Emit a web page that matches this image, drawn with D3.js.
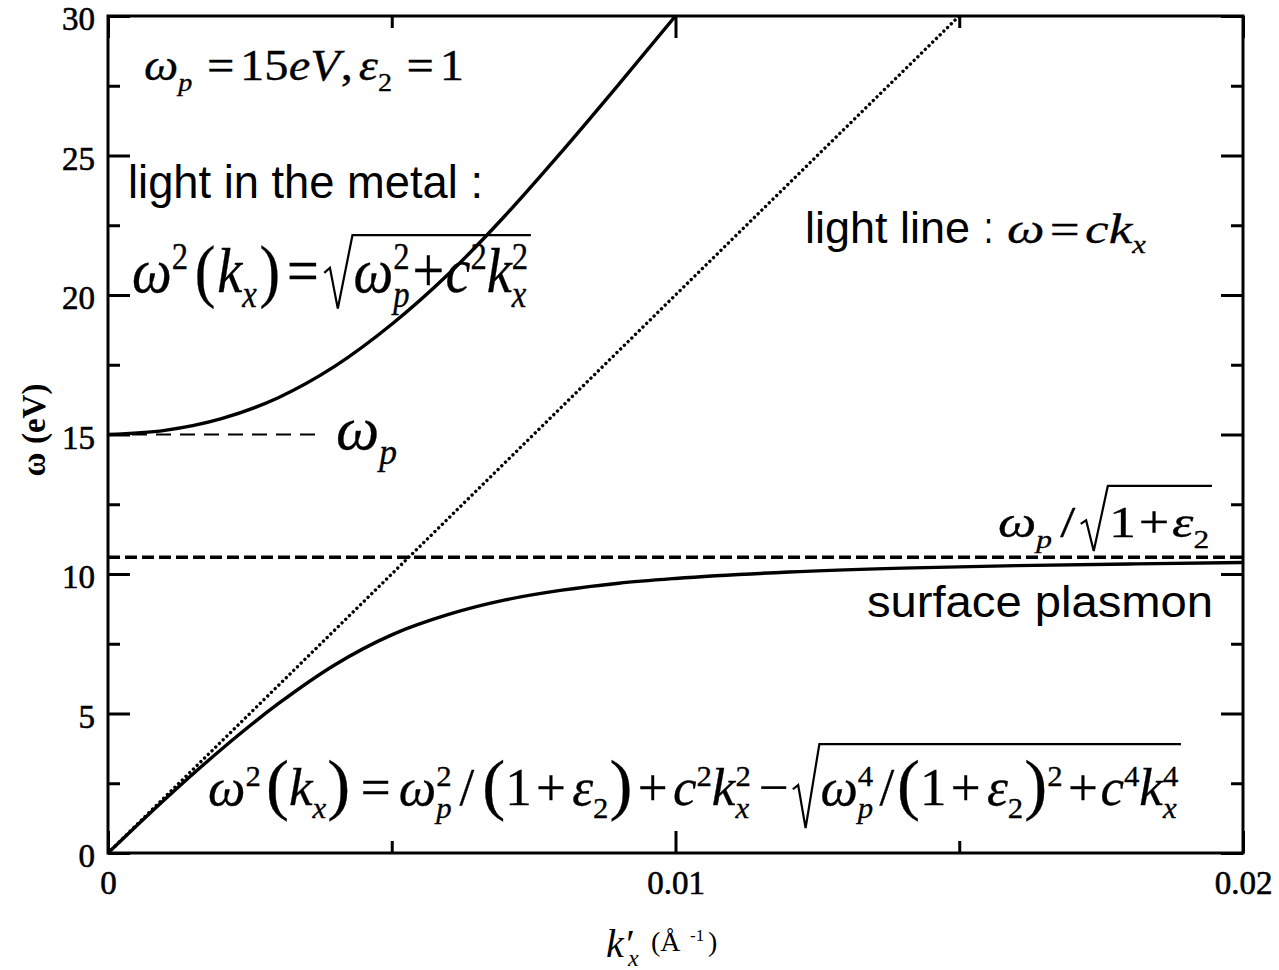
<!DOCTYPE html>
<html><head><meta charset="utf-8">
<script src="https://cdn.jsdelivr.net/npm/d3@7"></script>
<style>
html,body{margin:0;padding:0;background:#fff;}
svg{display:block;}
</style></head>
<body>
<svg id="chart" width="1279" height="970"></svg>
<script>
// Dispersion branches: wavevector k'x (1/Å) and energy ω (eV)
const upperK = [0, 0.001, 0.002, 0.003, 0.004, 0.005, 0.006, 0.007, 0.008, 0.009, 0.010];
const upperW = [15.0, 15.15, 15.57, 16.32, 17.45, 18.95, 20.75, 22.85, 25.15, 27.55, 30.0];
const lowerK = [0, 0.001, 0.002, 0.003, 0.004, 0.005, 0.006, 0.007, 0.008, 0.009, 0.010, 0.012, 0.014, 0.016, 0.018, 0.020];
const lowerW = [0, 1.92, 3.72, 5.35, 6.75, 7.82, 8.55, 9.07, 9.42, 9.67, 9.84, 10.07, 10.21, 10.3, 10.36, 10.41];
const lightK = [0, 0.015];
const lightW = [0, 30];
const plasmaK = [0, 0.00365];
const plasmaW = [15, 15];
const surfK = [0, 0.02];
const surfW = [10.6, 10.6];

const xTicks = [0, 0.01, 0.02];
const xTickLabels = ["0", "0.01", "0.02"];
const xMinorTicks = [0.005, 0.015];
const yTicks = [0, 5, 10, 15, 20, 25, 30];
const yTickLabels = ["0", "5", "10", "15", "20", "25", "30"];
const yMinorTicks = [2.5, 7.5, 12.5, 17.5, 22.5, 27.5];

const SERIF = "'Liberation Serif','Times New Roman',serif";
const SANS = "'Liberation Sans',Arial,sans-serif";

const svg = d3.select("#chart");
const L = 108, R = 1243, T = 16, B = 853;
const x = d3.scaleLinear().domain([0, 0.02]).range([L, R]);
const y = d3.scaleLinear().domain([0, 30]).range([B, T]);

svg.append("defs").append("clipPath").attr("id", "plot")
  .append("rect").attr("x", L).attr("y", T).attr("width", R - L).attr("height", B - T);

// axes: inward ticks, long at labelled values, short in between
function styleAxis(g) {
  g.select(".domain").remove();
  g.selectAll(".tick line").attr("stroke", "#000").attr("stroke-width", 3);
  g.selectAll(".tick text").attr("font-family", SERIF).attr("font-size", 33).attr("fill", "#000")
    .attr("stroke", "#000").attr("stroke-width", 0.6);
}
svg.append("g").attr("transform", `translate(0,${B})`)
  .call(d3.axisBottom(x).tickValues(xTicks).tickFormat((d, i) => xTickLabels[i]).tickSize(-22).tickPadding(18))
  .call(styleAxis);
svg.append("g").attr("transform", `translate(0,${B})`)
  .call(d3.axisBottom(x).tickValues(xMinorTicks).tickFormat("").tickSize(-12)).call(styleAxis);
svg.append("g").attr("transform", `translate(0,${T})`)
  .call(d3.axisTop(x).tickValues(xTicks).tickFormat("").tickSize(-22)).call(styleAxis);
svg.append("g").attr("transform", `translate(0,${T})`)
  .call(d3.axisTop(x).tickValues(xMinorTicks).tickFormat("").tickSize(-12)).call(styleAxis);
const yAxisG = svg.append("g").attr("transform", `translate(${L},0)`)
  .call(d3.axisLeft(y).tickValues(yTicks).tickFormat((d, i) => yTickLabels[i]).tickSize(-22).tickPadding(13))
  .call(styleAxis);
yAxisG.selectAll(".tick text").attr("dy", "0.42em");
svg.append("g").attr("transform", `translate(${L},0)`)
  .call(d3.axisLeft(y).tickValues(yMinorTicks).tickFormat("").tickSize(-12)).call(styleAxis);
svg.append("g").attr("transform", `translate(${R},0)`)
  .call(d3.axisRight(y).tickValues(yTicks).tickFormat("").tickSize(-22)).call(styleAxis);
svg.append("g").attr("transform", `translate(${R},0)`)
  .call(d3.axisRight(y).tickValues(yMinorTicks).tickFormat("").tickSize(-12)).call(styleAxis);

svg.append("rect").attr("x", L).attr("y", T).attr("width", R - L).attr("height", B - T)
  .attr("fill", "none").attr("stroke", "#000").attr("stroke-width", 3);

// curves
const plot = svg.append("g").attr("clip-path", "url(#plot)");
const line = d3.line().x(d => x(d[0])).y(d => y(d[1]));
const smooth = d3.line().x(d => x(d[0])).y(d => y(d[1])).curve(d3.curveMonotoneX);
const zip = (a, b) => a.map((v, i) => [v, b[i]]);

plot.append("path").datum(zip(surfK, surfW)).attr("d", line)
  .attr("fill", "none").attr("stroke", "#000").attr("stroke-width", 3.4).attr("stroke-dasharray", "12 5");
plot.append("path").datum(zip(plasmaK, plasmaW)).attr("d", line)
  .attr("fill", "none").attr("stroke", "#000").attr("stroke-width", 2.2).attr("stroke-dasharray", "15 9");
plot.append("path").datum(zip(lightK, lightW)).attr("d", line)
  .attr("fill", "none").attr("stroke", "#000").attr("stroke-width", 3.4)
  .attr("stroke-linecap", "round").attr("stroke-dasharray", "0.01 5.2");
plot.append("path").datum(zip(upperK, upperW)).attr("d", smooth)
  .attr("fill", "none").attr("stroke", "#000").attr("stroke-width", 3.4);
plot.append("path").datum(zip(lowerK, lowerW)).attr("d", smooth)
  .attr("fill", "none").attr("stroke", "#000").attr("stroke-width", 3.4);

// axis titles
svg.append("text").attr("transform", "translate(45,430) rotate(-90)")
  .attr("text-anchor", "middle").attr("font-family", SERIF).attr("font-weight", "bold")
  .attr("font-size", 33).text("ω (eV)");

const xt = svg.append("g");
xt.append("text").attr("x", 606).attr("y", 957).attr("font-family", SERIF).attr("font-style", "italic").attr("font-size", 40).text("k′");
xt.append("text").attr("x", 628).attr("y", 966).attr("font-family", SERIF).attr("font-style", "italic").attr("font-size", 24).text("x");
xt.append("text").attr("x", 651).attr("y", 951).attr("font-family", SERIF).attr("font-size", 28).text("(Å");
xt.append("text").attr("x", 690).attr("y", 941).attr("font-family", SERIF).attr("font-size", 17).text("-1");
xt.append("text").attr("x", 708).attr("y", 951).attr("font-family", SERIF).attr("font-size", 28).text(")");

// typeset math rows
const I = (s, o = {}) => Object.assign({ f: "i", s }, o);
const Rm = (s, o = {}) => Object.assign({ f: "r", s }, o);
const Sub = (s, f = "i") => ({ f, s, script: "sub" });
const Sup = (s) => ({ f: "r", s, script: "sup", stack: true });
const Gap = w => ({ gap: w });
const Sqrt = (...items) => ({ sqrt: items });

function layoutRow(g, items, cx, s, rad) {
  let last = null;
  for (const it of items) {
    if (it.gap != null) { cx += it.gap * s; last = null; continue; }
    if (it.sqrt) {
      const x0 = cx;
      const end = layoutRow(g, it.sqrt, x0 + 0.52 * s, s, rad) + 0.05 * s;
      const top = -rad.top * s, bot = rad.bot * s;
      g.append("path")
        .attr("d", `M${x0},${-0.3 * s} L${x0 + 0.1 * s},${-0.38 * s} L${x0 + 0.24 * s},${bot} L${x0 + 0.5 * s},${top} L${end},${top}`)
        .attr("fill", "none").attr("stroke", "#000").attr("stroke-width", 2.2)
        .attr("vector-effect", "non-scaling-stroke").attr("stroke-linejoin", "miter");
      cx = end + 0.02 * s; last = null; continue;
    }
    const fs = it.script ? 0.58 * s : s * (it.scale || 1);
    const dy = it.script === "sub" ? 0.24 * s : it.script === "sup" ? -0.36 * s : (it.dy || 0) * s;
    let tx = cx;
    if (it.stack && last) tx = last.x0;
    const t = g.append("text").attr("x", tx).attr("y", dy)
      .attr("font-family", SERIF).attr("font-size", fs)
      .attr("font-style", it.f === "i" ? "italic" : "normal").attr("fill", "#000")
      .attr("stroke", "#000").attr("stroke-width", 0.3).text(it.s);
    const w = t.node().getComputedTextLength();
    if (it.script) {
      if (it.stack && last) { cx = Math.max(last.x1, tx + w); last = null; }
      else { last = { x0: tx, x1: tx + w }; cx = tx + w; }
    } else { cx = tx + w; last = null; }
  }
  return cx;
}

function formula(items, left, right, base, size, sy = 1, rad = { top: 1.16, bot: 0.32 }) {
  const g = svg.append("g");
  const w = layoutRow(g, items, 0, size, rad);
  g.attr("transform", `translate(${left},${base}) scale(${(right - left) / w},${sy})`);
}

function sans(str, left, right, base, size) {
  svg.append("text").attr("x", left).attr("y", base).attr("font-family", SANS).attr("font-size", size)
    .attr("textLength", right - left).attr("lengthAdjust", "spacingAndGlyphs").attr("fill", "#000").text(str);
}

const P = (s, k) => Rm(s, { scale: k, dy: 0.03 });

// ωp = 15eV, ε2 = 1
formula([I("ω"), Sub("p"), Gap(0.3), Rm("="), Gap(0.12), Rm("15"), I("eV"), Gap(0.02), Rm(","), Gap(0.12),
  I("ε"), Sub("2", "r"), Gap(0.3), Rm("="), Gap(0.12), Rm("1")], 144, 464, 80, 42, 1.05);

sans("light in the metal :", 128, 483, 198, 46);

// ω²(kx) = √(ωp² + c²kx²)
formula([I("ω"), Sup("2"), Gap(0.12), P("(", 1.1), Gap(0.03), I("k"), Sub("x"), Gap(0.05), P(")", 1.1), Gap(0.12),
  Rm("="), Gap(0.1),
  Sqrt(I("ω"), Sub("p"), Sup("2"), Gap(0.05), Rm("+"), Gap(0.02), I("c"), Sup("2"), I("k"), Sub("x"), Sup("2"))],
  132, 532, 292, 58, 1.1, { top: 0.98 / 1.1, bot: 0.26 });

// ωp label
formula([I("ω"), Sub("p")], 336, 397, 449, 62);

sans("light line", 805, 970, 243, 44);
sans(":", 984, 993, 243, 44);
formula([I("ω"), Gap(0.1), Rm("="), Gap(0.1), I("c"), I("k"), Sub("x")], 1007, 1146, 243, 42);

// ωp / √(1+ε2)
formula([I("ω"), Sub("p"), Gap(0.15), Rm("/"), Gap(0.1), Sqrt(Rm("1"), Gap(0.05), Rm("+"), Gap(0.05), I("ε"), Sub("2", "r"))],
  998, 1213, 537, 44);

sans("surface plasmon", 867, 1213, 617, 44);

// ω²(kx) = ωp²/(1+ε2) + c²kx² − √(ωp⁴/(1+ε2)² + c⁴kx⁴)
formula([I("ω"), Sup("2"), Gap(0.1), P("(", 1.3), I("k"), Sub("x"), Gap(0.02), P(")", 1.3), Gap(0.2),
  Rm("="), Gap(0.15), I("ω"), Sub("p"), Sup("2"), Gap(0.15), Rm("/"), Gap(0.15), P("(", 1.3), Rm("1"), Gap(0.08), Rm("+"), Gap(0.12),
  I("ε"), Sub("2", "r"), Gap(0.02), P(")", 1.3), Gap(0.1), Rm("+"), Gap(0.1), I("c"), Sup("2"), I("k"), Sub("x"), Sup("2"),
  Gap(0.15), Rm("−"), Gap(0.08),
  Sqrt(I("ω"), Sub("p"), Sup("4"), Gap(0.12), Rm("/"), Gap(0.05), P("(", 1.3), Rm("1"), Gap(0.08), Rm("+"), Gap(0.12), I("ε"), Sub("2", "r"),
    Gap(0.02), P(")", 1.3), Rm("2", { script: "sup" }), Gap(0.1), Rm("+"), Gap(0.05), I("c"), Sup("4"), I("k"), Sub("x"), Sup("4"))],
  208, 1182, 805, 50, 1.05, { top: 1.16, bot: 0.44 });
</script>
</body></html>
